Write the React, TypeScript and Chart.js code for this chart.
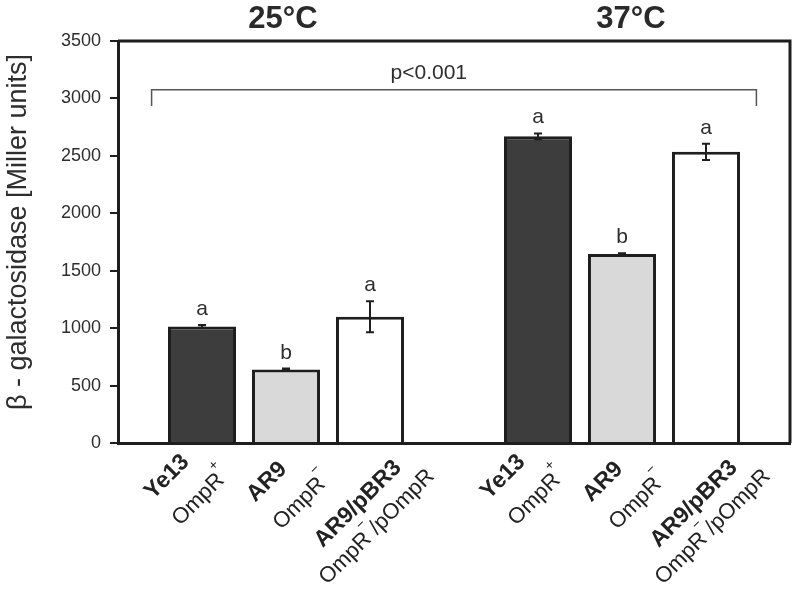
import React, { useEffect, useRef } from "react";
import { Chart, registerables } from "chart.js";

Chart.register(...registerables);

// ---- data ----
const strains = ["Ye13", "AR9", "AR9/pBR3", "Ye13", "AR9", "AR9/pBR3"];
const genotypeBase = ["OmpR", "OmpR", "OmpR", "OmpR", "OmpR", "OmpR"];
const genotypeSup = ["+", "\u2212", "\u2212", "+", "\u2212", "\u2212"];
const genotypeSuffix = ["", "", "/pOmpR", "", "", "/pOmpR"];
const xPositions = [1, 2, 3, 5, 6, 7];
const values = [1015, 640, 1100, 2670, 1645, 2535];
const errors = [12, 8, 135, 25, 8, 70];
const letters = ["a", "b", "a", "a", "b", "a"];
const groupTitles = ["25°C", "37°C"];
const groupCenters = [2, 6];
const yTicks = [0, 500, 1000, 1500, 2000, 2500, 3000, 3500];
const bracketFrom = 0.4;
const bracketTo = 7.6;
const bracketTop = 3075;
const bracketLegBottom = 2935;
const pLabel = "p<0.001";
const yTitle = "β - galactosidase [Miller units]";

// ---- styles ----
const FONT = "'Liberation Sans', Arial, sans-serif";
const barFills = ["#3d3d3d", "#d9d9d9", "#ffffff", "#3d3d3d", "#d9d9d9", "#ffffff"];
const INK = "#1e1e1e";
const TEXT = "#2e2e2e";
// label offsets (px) relative to bar center, rotated -45deg, centered
const line1Off = [
  [-35, 477],
  [-19, 482],
  [-12, 504],
];
const line2Off = [
  [-1, 497],
  [16, 501],
  [7, 527],
];

function drawRich(
  ctx: CanvasRenderingContext2D,
  parts: { t: string; font: string; dy: number; dx?: number }[],
  cx: number,
  cy: number,
  angle: number
) {
  ctx.save();
  ctx.translate(cx, cy);
  ctx.rotate(angle);
  let total = 0;
  const widths = parts.map((p) => {
    ctx.font = p.font;
    const w = ctx.measureText(p.t).width + (p.dx || 0);
    total += w;
    return w;
  });
  let x = -total / 2;
  ctx.textBaseline = "middle";
  ctx.textAlign = "left";
  parts.forEach((p, i) => {
    ctx.font = p.font;
    ctx.fillText(p.t, x + (p.dx || 0), p.dy);
    x += widths[i];
  });
  ctx.restore();
}

const overlay = {
  id: "overlay",
  afterDatasetsDraw(chart: any) {
    const ctx: CanvasRenderingContext2D = chart.ctx;
    const xs = chart.scales.x;
    const ys = chart.scales.y;
    const area = chart.chartArea;
    ctx.save();

    // box top/right
    ctx.strokeStyle = INK;
    ctx.lineWidth = 3;
    ctx.beginPath();
    ctx.moveTo(area.left, area.top);
    ctx.lineTo(area.right, area.top);
    ctx.lineTo(area.right, area.bottom);
    ctx.stroke();

    // error bars + letters
    xPositions.forEach((xv, i) => {
      const px = xs.getPixelForValue(xv);
      const yt = ys.getPixelForValue(values[i] + errors[i]);
      const yb = ys.getPixelForValue(values[i] - errors[i]);
      ctx.strokeStyle = INK;
      ctx.lineWidth = 2;
      ctx.beginPath();
      ctx.moveTo(px, yt);
      ctx.lineTo(px, yb);
      ctx.moveTo(px - 4, yt);
      ctx.lineTo(px + 4, yt);
      ctx.moveTo(px - 4, yb);
      ctx.lineTo(px + 4, yb);
      ctx.stroke();
      ctx.fillStyle = TEXT;
      ctx.font = `21px ${FONT}`;
      ctx.textAlign = "center";
      ctx.textBaseline = "alphabetic";
      ctx.fillText(letters[i], px, yt - 10);
    });

    // bracket
    const bl = xs.getPixelForValue(bracketFrom);
    const br = xs.getPixelForValue(bracketTo);
    const bt = ys.getPixelForValue(bracketTop);
    const bb = ys.getPixelForValue(bracketLegBottom);
    ctx.strokeStyle = "#555";
    ctx.lineWidth = 1.5;
    ctx.beginPath();
    ctx.moveTo(bl, bb);
    ctx.lineTo(bl, bt);
    ctx.lineTo(br, bt);
    ctx.lineTo(br, bb);
    ctx.stroke();
    ctx.fillStyle = TEXT;
    ctx.font = `21px ${FONT}`;
    ctx.textAlign = "center";
    ctx.fillText(pLabel, xs.getPixelForValue(3.7), bt - 11);

    // group titles
    ctx.font = `bold 31px ${FONT}`;
    ctx.fillStyle = "#2a2a2a";
    const tOff = [-3, 9];
    groupTitles.forEach((t, i) => {
      ctx.fillText(t, xs.getPixelForValue(groupCenters[i]) + tOff[i], area.top - 13);
    });

    // x labels
    const ang = -Math.PI / 4;
    xPositions.forEach((xv, i) => {
      const px = xs.getPixelForValue(xv);
      const k = i % 3;
      ctx.fillStyle = "#222";
      drawRich(ctx, [{ t: strains[i], font: `bold 23px ${FONT}`, dy: 0 }], px + line1Off[k][0], line1Off[k][1], ang);
      const parts = [
        { t: genotypeBase[i], font: `22px ${FONT}`, dy: 0 },
        { t: genotypeSup[i], font: `14px ${FONT}`, dy: -13, dx: -1 },
      ];
      if (genotypeSuffix[i]) parts.push({ t: genotypeSuffix[i], font: `22px ${FONT}`, dy: 0 });
      drawRich(ctx, parts, px + line2Off[k][0], line2Off[k][1], ang);
    });

    // y title
    ctx.save();
    ctx.translate(19, 232);
    ctx.rotate(-Math.PI / 2);
    ctx.fillStyle = TEXT;
    ctx.font = `27px ${FONT}`;
    ctx.textAlign = "center";
    ctx.textBaseline = "middle";
    ctx.fillText(yTitle, 0, 0);
    ctx.restore();

    ctx.restore();
  },
};

export default function App() {
  const ref = useRef<HTMLCanvasElement>(null);
  useEffect(() => {
    document.body.style.margin = "0";
    const chart = new Chart(ref.current as HTMLCanvasElement, {
      type: "bar",
      data: {
        datasets: [
          {
            data: xPositions.map((x, i) => ({ x, y: values[i] })),
            backgroundColor: barFills,
            borderColor: INK,
            borderWidth: 3,
            borderSkipped: "bottom",
            categoryPercentage: 0.9,
            barPercentage: 0.9,
          },
        ],
      },
      options: {
        animation: false,
        responsive: false,
        maintainAspectRatio: false,
        layout: { padding: { top: 41, right: 9, left: 0, bottom: 0 } },
        plugins: { legend: { display: false }, tooltip: { enabled: false }, title: { display: false } },
        scales: {
          x: {
            type: "linear",
            min: 0,
            max: 8,
            offset: false,
            ticks: { display: false },
            grid: { display: false },
            border: { display: true, color: INK, width: 3 },
            afterFit: (s: any) => {
              s.height = 154;
            },
          },
          y: {
            min: 0,
            max: 3500,
            afterBuildTicks: (s: any) => {
              s.ticks = yTicks.map((v) => ({ value: v }));
            },
            ticks: {
              font: { size: 18, family: FONT },
              color: TEXT,
              padding: 9,
              callback: (v: any) => String(v),
            },
            grid: { display: true, drawOnChartArea: false, drawTicks: true, tickLength: 8, color: INK, lineWidth: 2 },
            border: { display: true, color: INK, width: 3 },
            afterFit: (s: any) => {
              s.width = 118;
            },
          },
        },
      },
      plugins: [overlay],
    });
    return () => chart.destroy();
  }, []);
  return <canvas ref={ref} width={799} height={597} style={{ display: "block" }} />;
}
